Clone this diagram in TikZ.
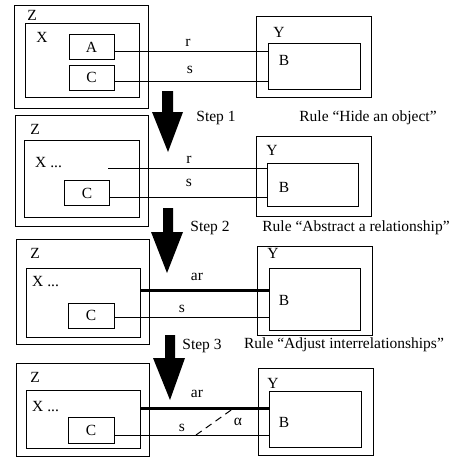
\documentclass[tikz,border=0pt]{standalone}
\usepackage{fontspec}
\setmainfont{Liberation Serif}
\begin{document}
\begin{tikzpicture}[x=1pt,y=-1pt,
  box/.style={draw,line width=1.1pt,inner sep=0pt,anchor=north west},
  lbl/.style={inner sep=0pt,font=\fontsize{15.5}{18}\selectfont},
  rel/.style={line width=1pt},
  absrel/.style={line width=3pt},
  bigarrow/.style={fill=black,draw=none}]
\useasboundingbox (0,0) rectangle (452,460);
\newcommand{\mkbox}[5]{\node[box,minimum width=#4-#2,minimum height=#5-#3] (#1) at (#2,#3) {};}
% ---------- Panel 1
\mkbox{Z1}{14}{5}{148}{108}
\mkbox{X1}{25}{23}{139}{97}
\mkbox{A1}{69}{34}{114}{59}
\mkbox{C1}{69}{65}{114}{90}
\mkbox{Y1}{256}{16}{371}{97}
\mkbox{B1}{268}{43}{360}{89}
\node[lbl] (z1) at (32,15) {Z};
\node[lbl] (x1) at (42,37) {X};
\node[lbl] (a1) at (91.5,47) {A};
\node[lbl] (c1) at (91.5,77) {C};
\node[lbl] (y1) at (279,32) {Y};
\node[lbl] (b1) at (284,60) {B};
\node[lbl] (r1) at (188,43) {r};
\node[lbl] (s1) at (190,70) {s};
\draw[rel] (A1.east |- 0,52) -- (B1.west |- 0,52);
\draw[rel] (C1.east |- 0,81) -- (B1.west |- 0,81);
% arrow 1
\fill[bigarrow] (162,91) -- (173,91) -- (173,112) -- (183,112) -- (168,152) -- (152,112) -- (162,112) -- cycle;
\node[lbl] (st1) at (216,118) {Step 1};
\node[lbl] (ru1) at (368,118) {Rule ``Hide an object''};
% ---------- Panel 2
\mkbox{Z2}{15}{115}{148}{226}
\mkbox{X2}{24}{140}{139}{217}
\mkbox{C2}{64}{180}{109}{205}
\mkbox{Y2}{256}{136}{371}{216}
\mkbox{B2}{267}{163}{358}{206}
\node[lbl] (z2) at (35,129) {Z};
\node[lbl,anchor=west] (x2) at (35,163) {X ...};
\node[lbl] (c2) at (87,193) {C};
\node[lbl] (y2) at (272,150) {Y};
\node[lbl] (b2) at (284,187) {B};
\node[lbl] (r2) at (189,160) {r};
\node[lbl] (s2) at (189,183) {s};
\coordinate (r2start) at (108,168);
\draw[rel] (r2start) -- (B2.west |- r2start);
\draw[rel] (C2.east |- 0,197) -- (B2.west |- 0,197);
% arrow 2
\fill[bigarrow] (163,208) -- (173,208) -- (173,232) -- (183,232) -- (167,273) -- (151,232) -- (163,232) -- cycle;
\node[lbl] (st2) at (210,228) {Step 2};
\node[lbl] (ru2) at (356,228) {Rule ``Abstract a relationship''};
% ---------- Panel 3
\mkbox{Z3}{16}{239}{149}{344}
\mkbox{X3}{26}{268}{140}{337}
\mkbox{C3}{68}{303}{114}{328}
\mkbox{Y3}{257}{246}{372}{335}
\mkbox{B3}{269}{268}{360}{330}
\node[lbl] (z3) at (35,253) {Z};
\node[lbl,anchor=west] (x3) at (32,282) {X ...};
\node[lbl] (c3) at (91,315) {C};
\node[lbl] (y3) at (273,253) {Y};
\node[lbl] (b3) at (284,300) {B};
\node[lbl] (ar3) at (197,277) {ar};
\node[lbl] (s3) at (182,309) {s};
\draw[absrel] (X3.east |- 0,290) -- (B3.west |- 0,290);
\draw[rel] (C3.east |- 0,317) -- (B3.west |- 0,317);
% arrow 3
\fill[bigarrow] (165,335) -- (175,335) -- (175,358) -- (185,358) -- (170,400) -- (153,358) -- (165,358) -- cycle;
\node[lbl] (st3) at (202,346) {Step 3};
\node[lbl] (ru3) at (344,345) {Rule ``Adjust interrelationships''};
% ---------- Panel 4
\mkbox{Z4}{16}{363}{149}{456}
\mkbox{X4}{26}{390}{140}{448}
\mkbox{C4}{68}{417}{114}{443}
\mkbox{Y4}{258}{368}{373}{455}
\mkbox{B4}{269}{391}{361}{447}
\node[lbl] (z4) at (35,377) {Z};
\node[lbl,anchor=west] (x4) at (32,407) {X ...};
\node[lbl] (c4) at (91,430) {C};
\node[lbl] (y4) at (273,383) {Y};
\node[lbl] (b4) at (284,422) {B};
\node[lbl] (al4) at (238,422) {α};
\node[lbl] (ar4) at (197,394) {ar};
\node[lbl] (s4) at (182,428) {s};
\draw[absrel] (X4.east |- 0,408) -- (B4.west |- 0,408);
\draw[rel] (C4.east |- 0,435) -- (B4.west |- 0,435);
\coordinate (d1) at (196,435);
\coordinate (d2) at (234,408);
\draw[rel,dash pattern=on 7pt off 5pt] (d1) -- (d2);
\end{tikzpicture}
\end{document}
